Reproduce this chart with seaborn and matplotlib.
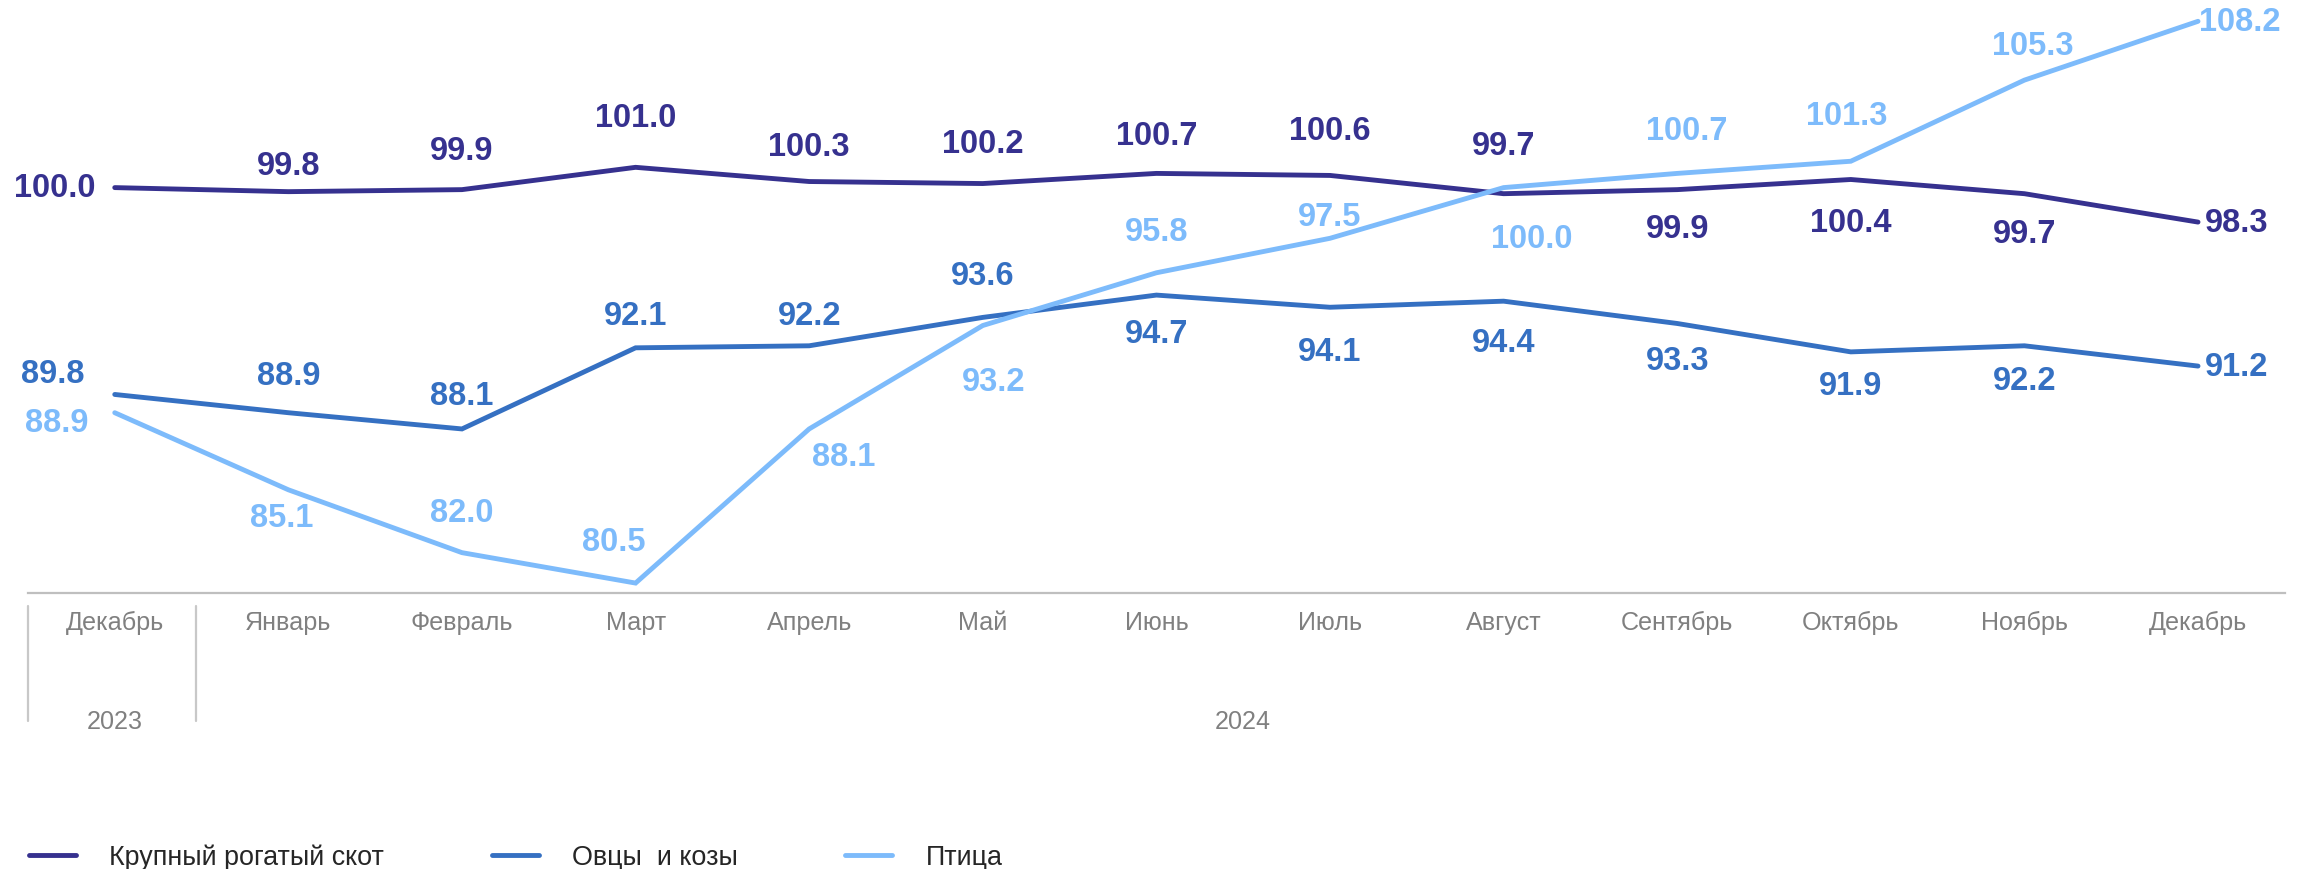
import numpy as np
import pandas as pd
import seaborn as sns
import matplotlib.pyplot as plt
from matplotlib import font_manager
from matplotlib.lines import Line2D

###### Données ########################

months = ['Декабрь', 'Январь', 'Февраль', 'Март', 'Апрель', 'Май', 'Июнь',
          'Июль', 'Август', 'Сентябрь', 'Октябрь', 'Ноябрь', 'Декабрь']
years = ['2023', '2024']
series_names = ['Крупный рогатый скот', 'Овцы  и козы', 'Птица']

krs = [100.0, 99.8, 99.9, 101.0, 100.3, 100.2, 100.7, 100.6, 99.7, 99.9, 100.4, 99.7, 98.3]
ovtsy = [89.8, 88.9, 88.1, 92.1, 92.2, 93.6, 94.7, 94.1, 94.4, 93.3, 91.9, 92.2, 91.2]
ptitsa = [88.9, 85.1, 82.0, 80.5, 88.1, 93.2, 95.8, 97.5, 100.0, 100.7, 101.3, 105.3, 108.2]

###### Style ########################

colors = ['#36318f', '#3570c2', '#7dbbfb']

# décalage des étiquettes (points)
offsets = [
    [(-43, 0), (0, 19), (0, 28), (0, 36), (0, 25), (0, 29), (0, 27), (0, 32), (0, 35),
     (0, -28), (0, -31), (0, -29), (28, 0)],
    [(-45, 15), (0, 27), (0, 24), (0, 23), (0, 22), (0, 30), (0, -28), (0, -32), (0, -30),
     (0, -27), (0, -24), (0, -25), (28, 0)],
    [(-42, -7), (-5, -20), (0, 29), (-16, 30), (25, -20), (8, -40), (0, 30), (0, 16), (20, -37),
     (7, 31), (-3, 33), (6, 25), (30, 0)],
]

sns.set_theme(style='white')
names = {f.name for f in font_manager.fontManager.ttflist}
if 'Liberation Sans Narrow' in names:
    fam = ['Liberation Sans Narrow', 'DejaVu Sans']
    k = 1.0
else:
    fam = ['Liberation Sans', 'DejaVu Sans']
    k = 0.84
plt.rcParams['font.family'] = fam

pos = np.arange(len(months))
df = pd.DataFrame({
    'pos': np.tile(pos, 3),
    'value': krs + ovtsy + ptitsa,
    'serie': np.repeat(series_names, len(months)),
})

fig = plt.figure(figsize=(23.1, 8.7), dpi=100)
ax = fig.add_axes([0.0121, 0.317, 0.977, 0.683])

sns.lineplot(data=df, x='pos', y='value', hue='serie', hue_order=series_names,
             palette=colors, linewidth=3.5, legend=False, ax=ax,
             solid_capstyle='round', solid_joinstyle='miter')

# étiquettes de valeurs
for values, col, offs in zip([krs, ovtsy, ptitsa], colors, offsets):
    for i, v in enumerate(values):
        ax.annotate(f'{v:.1f}', (pos[i], v), xytext=offs[i], textcoords='offset points',
                    ha='center', va='center', color=col, fontsize=28 * k, fontweight='bold')

ax.set_xlim(-0.5, len(months) - 0.5)
ax.set_ylim(80, 109.3)
ax.set_yticks([])
ax.set_xticks(pos)
ax.set_xticklabels(months, color='#808080', fontsize=21.5 * k)
ax.tick_params(axis='x', length=0, pad=12)
ax.set_xlabel('')
ax.set_ylabel('')
for s in ['top', 'left', 'right']:
    ax.spines[s].set_visible(False)
ax.spines['bottom'].set_color('#bfbfbf')
ax.spines['bottom'].set_linewidth(1.6)

# années et séparateurs
tr = ax.get_xaxis_transform()
ax.text(0, -0.215, years[0], transform=tr, ha='center', va='center', color='#808080', fontsize=21.5 * k)
ax.text((1 + len(months) - 1) / 2, -0.215, years[1], transform=tr, ha='center', va='center',
        color='#808080', fontsize=21.5 * k)
for xs in [-0.5, 0.47]:
    ax.plot([xs, xs], [-0.022, -0.215], transform=tr, color='#c8c8c8', lw=1.6, clip_on=False)

# légende
handles = [Line2D([0], [0], color=c, lw=3.5) for c in colors]
fig.legend(handles, series_names, loc='center left', bbox_to_anchor=(0.0125, 0.014),
           ncol=3, frameon=False, fontsize=23 * k, handlelength=1.75, handletextpad=1.25,
           columnspacing=4.0, borderpad=0, borderaxespad=0)

plt.savefig('out.png', dpi=100)
plt.close()
